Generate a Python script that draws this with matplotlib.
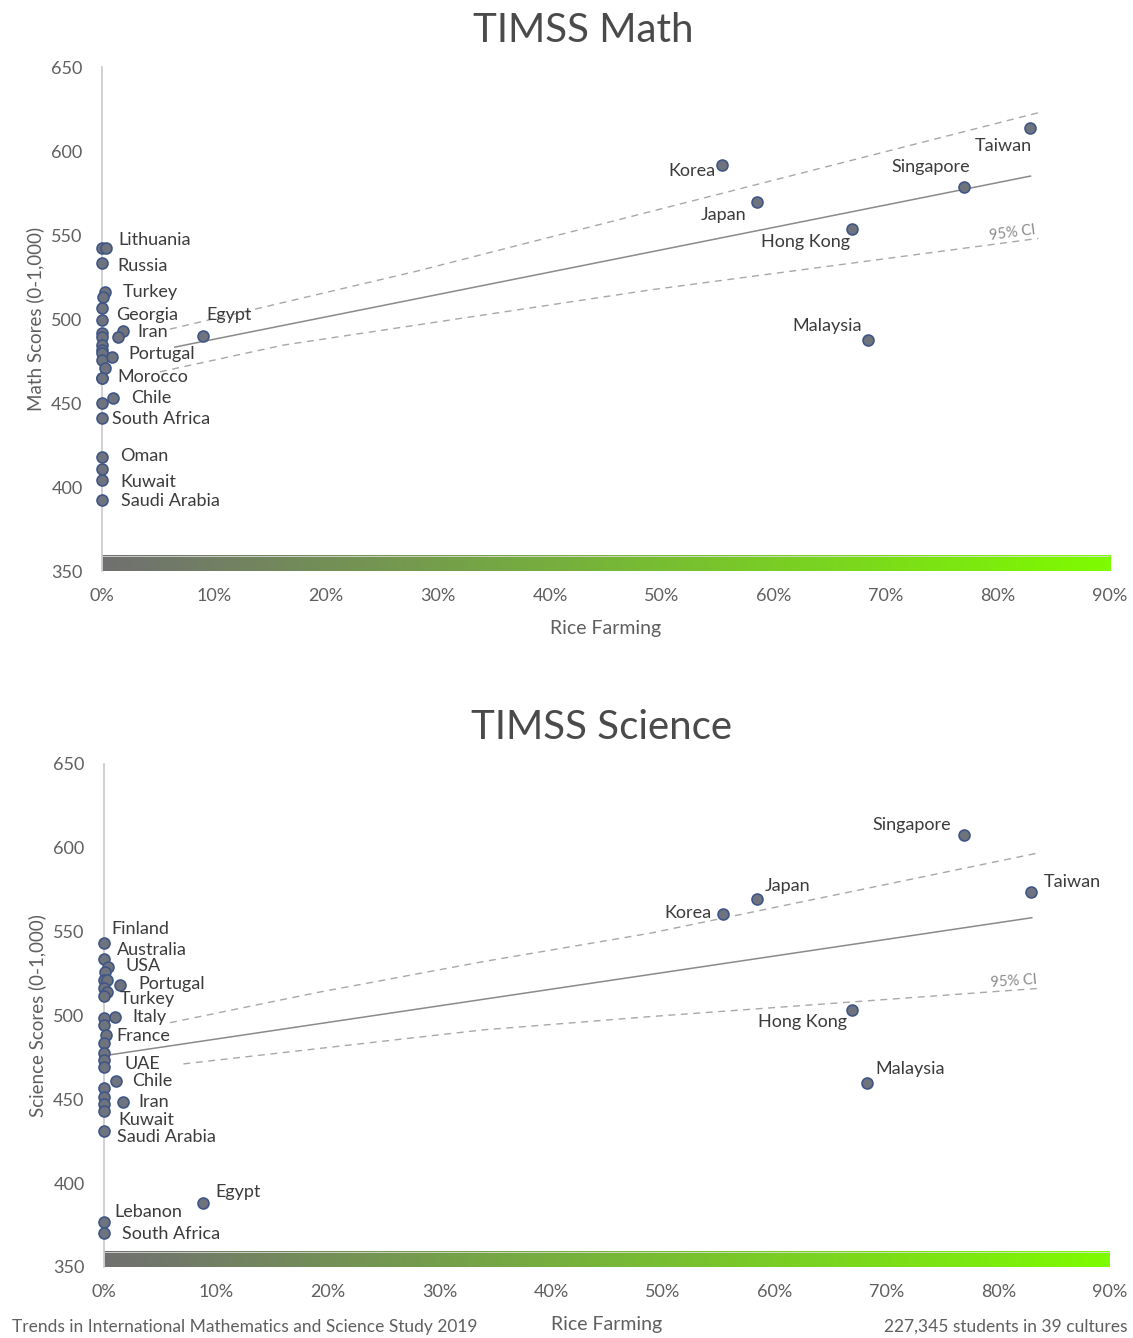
import numpy as np
import matplotlib
matplotlib.use("Agg")
import matplotlib.pyplot as plt
from matplotlib.patches import Rectangle

plt.rcParams['font.family'] = ['Lato', 'DejaVu Sans']

# --- TIMSS Math: rice farming (%) vs score ---
math_names = ['Taiwan', 'Singapore', 'Korea', 'Japan', 'Hong Kong', 'Malaysia', 'Egypt',
              'Lithuania', '', 'Russia', 'Turkey', '', '', 'Georgia', '', '', '', '', '',
              '', '', '', 'Iran', '', 'Portugal', 'Morocco', 'Chile', '',
              'South Africa', 'Oman', '', 'Kuwait', 'Saudi Arabia']
math_rice = [82.9, 77.0, 55.4, 58.5, 67.0, 68.4, 9.0,
             0.0, 0.4, 0.0, 0.3, 0.1, 0.0, 0.0, 0.0, 0.0, 0.0, 0.0, 0.0,
             0.0, 0.3, 0.0, 1.85, 1.45, 0.9, 0.0, 1.0, 0.0,
             0.0, 0.0, 0.0, 0.0, 0.0]
math_scores = [614.0, 578.6, 591.7, 569.6, 553.6, 487.5, 490.0,
               542.1, 542.1, 533.5, 516.3, 512.9, 506.4, 499.4, 491.5, 489.5, 484.5, 481.5, 479.6,
               475.6, 470.8, 464.7, 492.9, 489.5, 477.6, 464.7, 452.8, 450.2,
               440.9, 418.0, 411.0, 404.2, 392.3]
math_fit_x = [6.5, 82.9]
math_fit_y = [483.3, 585.1]
math_ci_hi_x = [6.07, 28.1, 83.6]
math_ci_hi_y = [494.0, 528.5, 622.8]
math_ci_lo_x = [5.18, 16.2, 48.9, 83.6]
math_ci_lo_y = [468.6, 484.5, 517.3, 548.0]

# --- TIMSS Science ---
sci_names = ['Singapore', 'Taiwan', 'Japan', 'Korea', 'Hong Kong', 'Malaysia', 'Egypt',
             'Finland', 'Australia', 'USA', '', '', '', 'Portugal', '', 'Turkey', '',
             'Italy', '', '', 'France', '', '', '', 'UAE', 'Chile', '', '', 'Iran', '',
             'Kuwait', 'Saudi Arabia', 'Lebanon', 'South Africa']
sci_rice = [76.9, 82.9, 58.4, 55.4, 66.9, 68.3, 8.9,
            0.0, 0.0, 0.4, 0.1, 0.0, 0.3, 1.45, 0.0, 0.3, 0.0,
            1.0, 0.0, 0.0, 0.15, 0.0, 0.0, 0.0, 0.0, 1.1, 0.0, 0.0, 1.7, 0.0,
            0.0, 0.0, 0.0, 0.0]
sci_scores = [607.7, 573.7, 569.5, 560.6, 503.3, 459.8, 388.4,
              543.1, 533.5, 529.1, 526.2, 521.2, 521.2, 518.2, 516.4, 514.2, 511.7,
              499.3, 498.4, 494.4, 488.4, 483.5, 477.5, 473.5, 469.5, 461.2, 456.6, 451.6, 448.6, 447.3,
              443.3, 431.3, 377.1, 370.2]
sci_fit_x = [0.5, 83.0]
sci_fit_y = [476.5, 558.3]
sci_ci_hi_x = [5.9, 19.0, 33.9, 48.8, 83.7]
sci_ci_hi_y = [495.7, 513.6, 532.1, 549.0, 597.1]
sci_ci_lo_x = [7.1, 22.0, 33.9, 48.8, 83.9]
sci_ci_lo_y = [471.1, 482.4, 491.4, 499.3, 516.3]

x_ticks = list(range(0, 100, 10))
y_ticks = list(range(350, 700, 50))

# label offsets in pixels: (dx, dy, horizontal alignment)
math_offsets = {
    'Lithuania': (16, 8, 'left'), 'Russia': (15, -3, 'left'), 'Turkey': (17, 0, 'left'),
    'Georgia': (14, 5, 'left'), 'Iran': (15, -1, 'left'), 'Egypt': (4, 21, 'left'),
    'Portugal': (16, 3, 'left'), 'Morocco': (15, 1, 'left'), 'Chile': (18, 0, 'left'),
    'South Africa': (10, -1, 'left'), 'Oman': (18, 1, 'left'), 'Kuwait': (18, -2, 'left'),
    'Saudi Arabia': (19, -1, 'left'),
    'Korea': (-7, -6, 'right'), 'Japan': (-11, -13, 'right'), 'Hong Kong': (-2, -13, 'right'),
    'Malaysia': (-6, 14, 'right'), 'Singapore': (6, 20, 'right'), 'Taiwan': (1, -18, 'right'),
}
sci_offsets = {
    'Finland': (7, 14, 'left'), 'Australia': (13, 9, 'left'), 'USA': (17, 1, 'left'),
    'Portugal': (18, 1, 'left'), 'Turkey': (12, -7, 'left'), 'Italy': (17, 0, 'left'),
    'France': (11, -1, 'left'), 'UAE': (20, 3, 'left'), 'Chile': (16, 0, 'left'),
    'Iran': (15, 0, 'left'), 'Kuwait': (14, -9, 'left'), 'Saudi Arabia': (13, -6, 'left'),
    'Egypt': (12, 11, 'left'), 'Lebanon': (10, 10, 'left'), 'South Africa': (18, -1, 'left'),
    'Singapore': (-13, 10, 'right'), 'Taiwan': (13, 10, 'left'), 'Japan': (8, 13, 'left'),
    'Korea': (-12, 1, 'right'), 'Hong Kong': (-5, -12, 'right'), 'Malaysia': (8, 14, 'left'),
}

TEXT = '#3b3b3b'
TICK = '#5f5f5f'
LINE = '#8a8a8a'
GRAD_START = np.array([112, 112, 112]) / 255
GRAD_END = np.array([126, 252, 0]) / 255


def draw_panel(fig, rect, title, title_x, ylabel, names, rice, scores, fit, ci_hi, ci_lo,
               offsets, ci_pos, ci_rot):
    ax = fig.add_axes(rect)
    ax.set_xlim(0, 90)
    ax.set_ylim(350, 650)

    # gradient bar along the bottom
    t = np.linspace(0, 1, 256)[:, None]
    grad = (GRAD_START * (1 - t) + GRAD_END * t)[None, :, :]
    ax.imshow(grad, extent=(0, 90, 350, 359), aspect='auto', zorder=1)
    ax.add_patch(Rectangle((0, 350), 90, 9, fill=False, edgecolor='#dcdcdc', lw=0.6, zorder=2))

    ax.plot(fit[0], fit[1], color=LINE, lw=1.1, zorder=2)
    ax.plot(ci_hi[0], ci_hi[1], color='#a8a8a8', lw=1.0, ls=(0, (5, 4)), zorder=2)
    ax.plot(ci_lo[0], ci_lo[1], color='#a8a8a8', lw=1.0, ls=(0, (5, 4)), zorder=2)
    ax.text(ci_pos[0], ci_pos[1], '95% CI', fontsize=10.5, color='#8a8a8a',
            rotation=ci_rot, ha='center', va='center', rotation_mode='anchor')

    ax.scatter(rice, scores, s=62, color='#6f737d', edgecolor='#3f5687',
               linewidth=1.2, zorder=4, clip_on=False)

    for name, x, y in zip(names, rice, scores):
        if not name:
            continue
        dx, dy, ha = offsets[name]
        ax.annotate(name, (x, y), xytext=(dx, dy), textcoords='offset pixels',
                    ha=ha, va='center', fontsize=13, color=TEXT, zorder=5)

    for side in ['top', 'right', 'bottom']:
        ax.spines[side].set_visible(False)
    ax.spines['left'].set_color('#c8c8c8')
    ax.spines['left'].set_linewidth(1.2)

    ax.set_xticks(x_ticks)
    ax.set_xticklabels([f'{v}%' for v in x_ticks])
    ax.set_yticks(y_ticks)
    ax.tick_params(length=0, labelsize=13, colors=TICK)
    ax.tick_params(axis='x', pad=12)
    ax.tick_params(axis='y', pad=14)

    ax.set_title(title, fontsize=29, color='#4a4a4a', pad=18, x=title_x)
    ax.set_ylabel(ylabel, fontsize=13.5, color=TICK, labelpad=5)
    ax.set_xlabel('Rice Farming', fontsize=14, color=TICK, labelpad=12)
    return ax


fig = plt.figure(figsize=(11.33, 13.38), dpi=100)

draw_panel(fig, [0.090, 0.5732, 0.8897, 0.3767], 'TIMSS Math', 0.477, 'Math Scores (0-1,000)',
           math_names, math_rice, math_scores,
           (math_fit_x, math_fit_y), (math_ci_hi_x, math_ci_hi_y), (math_ci_lo_x, math_ci_lo_y),
           math_offsets, (81.3, 551.5), 7.5)

draw_panel(fig, [0.0918, 0.0531, 0.8879, 0.3759], 'TIMSS Science', 0.495, 'Science Scores (0-1,000)',
           sci_names, sci_rice, sci_scores,
           (sci_fit_x, sci_fit_y), (sci_ci_hi_x, sci_ci_hi_y), (sci_ci_lo_x, sci_ci_lo_y),
           sci_offsets, (81.4, 520.5), 4.0)

fig.text(12 / 1133, 1 - 1327 / 1338, 'Trends in International Mathematics and Science Study 2019',
         fontsize=12.5, color=TICK, ha='left', va='center')
fig.text(1127 / 1133, 1 - 1327 / 1338, '227,345 students in 39 cultures',
         fontsize=12.5, color=TICK, ha='right', va='center')

fig.savefig('out.png', dpi=100)
